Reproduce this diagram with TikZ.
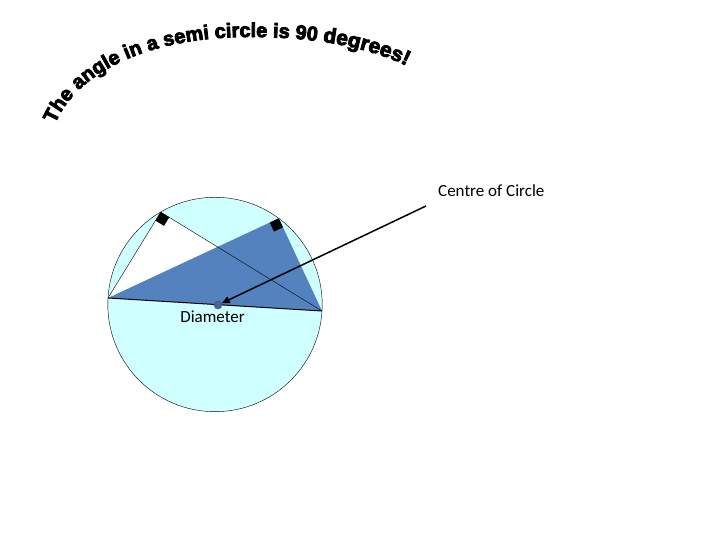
\documentclass[tikz,border=0pt]{standalone}
\usepackage{fontspec}
\setmainfont{Carlito}
\newfontfamily\arcfont[FakeBold=4]{Liberation Sans Bold}
\usetikzlibrary{arrows.meta, positioning, calc, decorations.text}
\definecolor{circlecyan}{RGB}{208,255,255}
\definecolor{triblue}{RGB}{84,130,190}
\definecolor{dotblue}{RGB}{70,100,160}

\begin{document}
\begin{tikzpicture}[x=1pt, y=1pt, thin,
    caption/.style={font=\fontsize{17}{17}\selectfont, inner sep=0pt}]
  \useasboundingbox (0,0) rectangle (720,540);

  % Points on the circle
  \coordinate (O) at (215,235.5);
  \coordinate (A) at (108,242);
  \coordinate (B) at (322,229);
  \coordinate (C1) at (160.7,327.9);
  \coordinate (C2) at (278.8,321.7);

  % Draw the circle
  \draw[fill=circlecyan] (O) circle (107.2);

  % Draw the two triangles in the semi circle
  \fill[white] (A) -- (C1) -- (B) -- cycle;
  \fill[triblue] (A) -- (C2) -- (B) -- cycle;
  \draw (A) -- (C1) -- (B);
  \draw[line width=1pt] (A) -- (B);

  % Draw the right angle marks
  \foreach \c in {C1, C2} {
    \coordinate (s1) at ($(\c)!10pt!(A)$);
    \coordinate (s2) at ($(\c)!10pt!(B)$);
    \fill (\c) -- (s1) -- ($(s1)+(s2)-(\c)$) -- (s2) -- cycle;
  }

  % Title along the arch
  \path[decorate, decoration={text along path, text align=left,
      text={|\arcfont\fontsize{20}{20}\selectfont|The angle in a semi circle is 90 |\arcfont\fontsize{21}{21}\selectfont|degrees!}}]
    (55,416) .. controls (80,474) and (160,503) .. (248,503)
    .. controls (305,503) and (360,496) .. (405,475) -- (450,454);

  % Labels and the arrow to the centre
  \node[caption, anchor=base west] (cc) at (438,343) {Centre of Circle};
  \node[caption, anchor=base] (diam) at (212.5,217) {Diameter};
  \node[circle, fill=dotblue, draw=black!70, inner sep=0pt, minimum size=8pt] (ctr) at (218,235) {};
  \coordinate (tail) at (426,334);
  \draw[line width=1.5pt, -{Triangle[length=8pt, width=7pt]}] (tail) -- (ctr);
\end{tikzpicture}
\end{document}
